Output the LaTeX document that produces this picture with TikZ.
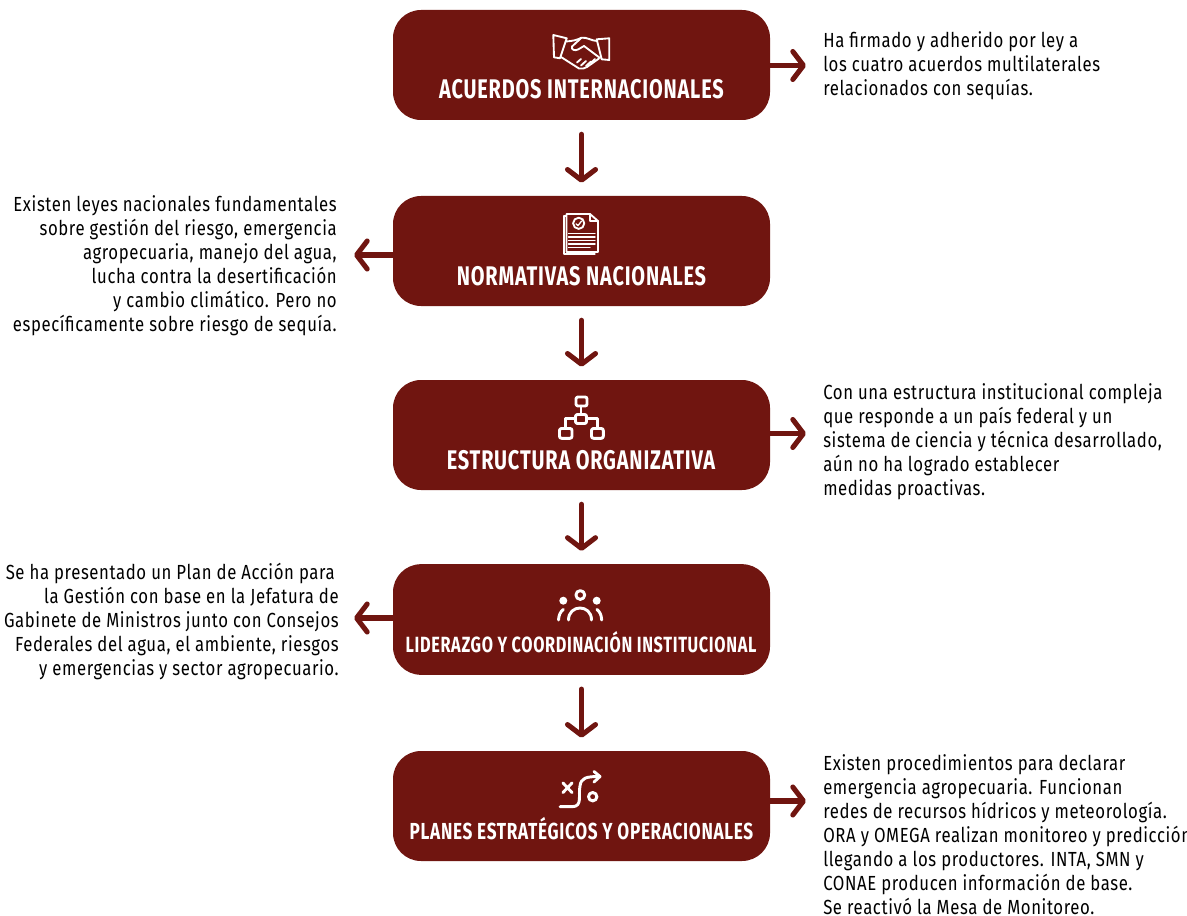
\documentclass[tikz,border=0pt]{standalone}
\usepackage{fontspec}
\usetikzlibrary{arrows.meta}
\setmainfont[FakeStretch=0.82,LetterSpace=3]{Fira Sans}
\newfontfamily\ttlfont[FakeStretch=0.74,LetterSpace=3]{Fira Sans}
\definecolor{wine}{HTML}{701510}
\tikzset{
  stagebox/.style={fill=wine,draw=none,rounded corners=21pt,minimum width=282.75pt,inner sep=0pt},
  title/.style={text=white,anchor=base,inner sep=0pt,font=\ttlfont\bfseries\fontsize{20.2}{24}\selectfont},
  note/.style={text=black,inner sep=0pt,font=\fontsize{15.3}{18}\selectfont},
  noteL/.style={note,anchor=west,align=left},
  noteR/.style={note,anchor=east,align=right},
  link/.style={draw=wine,line width=3.8pt,line cap=round,-{Straight Barb[length=8pt,width=21pt,round]}},
  down/.style={link,shorten <=10.5pt,shorten >=9.75pt},
  ico/.style={draw=white,line width=2.2pt,line cap=round,line join=round},
  icothin/.style={draw=white,line width=1.4pt,line cap=round,line join=round}
}
\begin{document}
\begin{tikzpicture}[x=0.75pt,y=-0.75pt]
\useasboundingbox (0,0) rectangle (1187,916);
% boxes
\node[stagebox,minimum height=82.5pt] (b1) at (581.5,65) {};
\node[stagebox,minimum height=82.5pt] (b2) at (581.5,251) {};
\node[stagebox,minimum height=82.5pt] (b3) at (581.5,435) {};
\node[stagebox,minimum height=83pt] (b4) at (581.5,619.5) {};
\node[stagebox,minimum height=82.5pt] (b5) at (581.5,806) {};
% titles
\node[title] (t1) at (581.5,99) {ACUERDOS INTERNACIONALES};
\node[title] (t2) at (581.5,285) {NORMATIVAS NACIONALES};
\node[title] (t3) at (581,469) {ESTRUCTURA ORGANIZATIVA};
\node[title,font=\ttlfont\bfseries\fontsize{16.5}{20}\selectfont] (t4) at (581,652) {LIDERAZGO Y COORDINACIÓN INSTITUCIONAL};
\node[title,font=\ttlfont\bfseries\fontsize{17.4}{20}\selectfont] (t5) at (581.5,839) {PLANES ESTRATÉGICOS Y OPERACIONALES};
% notes
\node[noteL] (n1) at (823,66) {Ha firmado y adherido por ley a\\los cuatro acuerdos multilaterales\\relacionados con sequías.};
\node[noteR] (n2) at (337,266) {Existen leyes nacionales fundamentales\\sobre gestión del riesgo, emergencia\\agropecuaria, manejo del agua,\\lucha contra la desertificación\\y cambio climático. Pero no\\específicamente sobre riesgo de sequía.};
\node[noteL] (n3) at (823,442) {Con una estructura institucional compleja\\que responde a un país federal y un\\sistema de ciencia y técnica desarrollado,\\aún no ha logrado establecer\\medidas proactivas.};
\node[noteR] (n4) at (339,621) {Se ha presentado un Plan de Acción para\hspace*{3pt}\\la Gestión con base en la Jefatura de\hspace*{3pt}\\Gabinete de Ministros junto con Consejos\hspace*{3pt}\\Federales del agua, el ambiente, riesgos\hspace*{3pt}\\y emergencias y sector agropecuario.};
\node[noteL] (n5) at (823,835) {Existen procedimientos para declarar\\emergencia agropecuaria. Funcionan\\redes de recursos hídricos y meteorología.\\ORA y OMEGA realizan monitoreo y predicción,\\llegando a los productores. INTA, SMN y\\CONAE producen información de base.\\Se reactivó la Mesa de Monitoreo.};
% connectors
\draw[down] (b1.south) -- (b2.north);
\draw[down] (b2.south) -- (b3.north);
\draw[down] (b3.south) -- (b4.north);
\draw[down] (b4.south) -- (b5.north);
\coordinate (e1) at (806,65.5);
\coordinate (e2) at (354,255);
\coordinate (e3) at (806,433.5);
\coordinate (e4) at (354,618);
\coordinate (e5) at (806,801);
\draw[link] (b1.east |- e1) -- (e1);
\draw[link] (b2.west |- e2) -- (e2);
\draw[link] (b3.east |- e3) -- (e3);
\draw[link] (b4.west |- e4) -- (e4);
\draw[link] (b5.east |- e5) -- (e5);
% handshake icon
\draw[icothin] (553.3,35) -- (566.7,38.3) -- (560,58.3) -- (554,57.3) -- cycle;
\draw[icothin] (609.3,38.3) -- (596.7,39.3) -- (601.7,59.3) -- (609.3,60) -- cycle;
\draw[icothin] (566,41.5) .. controls (573,41) and (577,40) .. (581.5,37.7) .. controls (587,37) and (592,41) .. (597,41);
\draw[icothin] (581.5,37.7) -- (572,46.5) .. controls (571,50) and (575,51) .. (578,49.5) -- (584,46) -- (600,58);
\draw[icothin] (561,57) -- (579,68.5) .. controls (582,69) and (585,68.5) .. (587,67) -- (599,58.5);
\draw[icothin] (577,62.5) -- (581,59) (581,65.5) -- (586,61) (586,66) -- (591,61.5) (591,63) -- (595,59);
% document icon
\draw[icothin] (566.5,214) -- (590,214) -- (598,221) -- (598,252) -- (566.5,252) -- cycle;
\draw[icothin] (590,214) -- (590,221) -- (598,221);
\draw[icothin,line width=0.9pt] (566.5,216) -- (564,216) -- (564,254) -- (595,254);
\draw[icothin] (578.7,223.3) circle (5.6);
\draw[icothin,line width=1pt] (576,223.8) -- (578,225.6) -- (581.6,221);
\draw[icothin,line width=1.1pt] (568.5,233.3) -- (595,233.3) (568.5,237) -- (595,237) (568.5,240.7) -- (595,240.7) (568.5,244) -- (595,244) (568.5,247.3) -- (590,247.3);
% org chart icon
\draw[ico,rounded corners=1.5pt] (576,397) rectangle (587,406);
\draw[ico,rounded corners=1.5pt] (575.5,414.5) rectangle (586.5,423.5);
\draw[ico,rounded corners=1.5pt] (559.5,428.5) rectangle (572,438.3);
\draw[ico,rounded corners=1.5pt] (591.5,428.5) rectangle (603.3,438.3);
\draw[ico] (581,406) -- (581,414.5);
\draw[ico] (565.7,428.5) -- (565.7,418.5) -- (575.5,418.5) (586.5,418.5) -- (597.3,418.5) -- (597.3,428.5);
% people icon
\draw[ico] (580.3,595) circle (4.4);
\fill[white] (563.3,600.7) circle (4) (596.7,600.7) circle (4);
\draw[ico] (568.5,620) .. controls (568.5,604) and (591.5,604) .. (591.5,620);
\draw[ico] (558.5,620) .. controls (558.8,615) and (560.5,611.5) .. (563.3,609.5);
\draw[ico] (601.7,620) .. controls (601.4,615) and (599.7,611.5) .. (597,609.5);
% plan icon
\draw[ico] (563,783) -- (572,792.5) (572,783) -- (563,792.5);
\draw[ico] (592.7,796.7) circle (4.2);
\draw[ico] (560,806.7) -- (572,806.7) .. controls (583,806.7) and (578,795) .. (580,786) .. controls (581,778) and (586,776.5) .. (599,776.5);
\draw[ico] (594,771.5) -- (600,776.5) -- (594,782);
\end{tikzpicture}
\end{document}
